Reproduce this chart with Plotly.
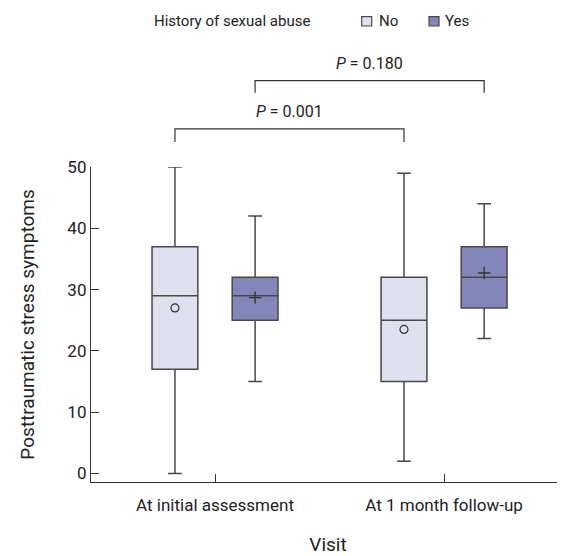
import plotly.graph_objects as go

# ---- data ----
visits = ["At initial assessment", "At 1 month follow-up"]
groups = ["No", "Yes"]
no_lower = [0, 2]
no_q1 = [17, 15]
no_median = [29, 25]
no_q3 = [37, 32]
no_upper = [50, 49]
no_mean = [27, 23.5]

yes_lower = [15, 22]
yes_q1 = [25, 27]
yes_median = [29, 32]
yes_q3 = [32, 37]
yes_upper = [42, 44]
yes_mean = [28.7, 32.7]

p_labels = ["P = 0.001", "P = 0.180"]
legend_title = "History of sexual abuse"

# ---- style ----
FONT = "Roboto, sans-serif"
NO_FILL = "#dfe0ee"
YES_FILL = "#8486b9"
LINE = "#484848"
AX = "#333333"
TXT = "#222222"
OFFSET = 0.175
BOXW = 0.2

idx = list(range(len(visits)))
x_no = [i - OFFSET for i in idx]
x_yes = [i + OFFSET for i in idx]

fig = go.Figure()
fig.add_trace(go.Box(
    name="No", x=x_no, q1=no_q1, median=no_median, q3=no_q3,
    lowerfence=no_lower, upperfence=no_upper, width=BOXW, whiskerwidth=0.3,
    fillcolor=NO_FILL, line=dict(color=LINE, width=1.5), boxpoints=False,
    showlegend=False, hoverinfo="y"))
fig.add_trace(go.Box(
    name="Yes", x=x_yes, q1=yes_q1, median=yes_median, q3=yes_q3,
    lowerfence=yes_lower, upperfence=yes_upper, width=BOXW, whiskerwidth=0.3,
    fillcolor=YES_FILL, line=dict(color=LINE, width=1.5), boxpoints=False,
    showlegend=False, hoverinfo="y"))
fig.add_trace(go.Scatter(
    x=x_no, y=no_mean, mode="markers", showlegend=False,
    marker=dict(symbol="circle-open", size=8, color="#333", line=dict(width=1.2))))
fig.add_trace(go.Scatter(
    x=x_yes, y=yes_mean, mode="markers", showlegend=False,
    marker=dict(symbol="cross-thin", size=9, color="#333", line=dict(width=1.3, color="#333"))))

# significance brackets (data x, paper y)
brackets = [
    (x_no[0], x_no[1], 1.121, 1.079, 1.175, p_labels[0]),
    (x_yes[0], x_yes[1], 1.274, 1.236, 1.327, p_labels[1]),
]
for xa, xb, ytop, ybot, ylab, lab in brackets:
    fig.add_shape(type="path", xref="x", yref="paper",
                  path=f"M {xa},{ybot} L {xa},{ytop} L {xb},{ytop} L {xb},{ybot}",
                  line=dict(color=AX, width=1.2))
    p, rest = lab.split(" ", 1)
    fig.add_annotation(x=(xa + xb) / 2, y=ylab, xref="x", yref="paper",
                       xanchor="center", yanchor="middle",
                       text=f"<i>{p}</i> {rest}", showarrow=False,
                       font=dict(size=16, color=TXT, family=FONT))

# manual legend
fig.add_annotation(x=0.1287, y=1.4635, xref="paper", yref="paper", xanchor="left",
                   yanchor="middle", text=legend_title, showarrow=False,
                   font=dict(size=15, color=TXT, family=FONT))
legend_items = [(groups[0], NO_FILL, 0.5711, 0.6027), (groups[1], YES_FILL, 0.7131, 0.7420)]
for name, col, sx, tx in legend_items:
    fig.add_shape(type="rect", xref="paper", yref="paper",
                  x0=sx, x1=sx + 0.0211, y0=1.4476, y1=1.4776,
                  fillcolor=col, line=dict(color=LINE, width=1.2))
    fig.add_annotation(x=tx, y=1.4635, xref="paper", yref="paper", xanchor="left",
                       yanchor="middle", text=name, showarrow=False,
                       font=dict(size=15, color=TXT, family=FONT))

# page body has an 8px margin, so the figure is 8px smaller and shifted
fig.update_layout(
    width=557, height=548,
    margin=dict(l=83, r=0, t=159, b=74, autoexpand=False),
    paper_bgcolor="white", plot_bgcolor="white",
    boxmode="overlay",
    font=dict(family=FONT, color=TXT),
    showlegend=False,
)
fig.update_xaxes(
    range=[-0.5415, 1.528], tickvals=idx, ticktext=visits,
    showline=True, linecolor=AX, linewidth=1.3, showgrid=False, zeroline=False,
    ticks="inside", ticklen=8, tickcolor=AX, ticklabelstandoff=7,
    tickfont=dict(size=17, family=FONT, color=TXT),
    title=dict(text="Visit", font=dict(size=19, family=FONT, color=TXT), standoff=26),
)
fig.update_yaxes(
    range=[-1.4, 50], tickvals=[0, 10, 20, 30, 40, 50],
    showline=True, linecolor=AX, linewidth=1.3, showgrid=False, zeroline=False,
    ticks="inside", ticklen=8, tickcolor=AX,
    tickfont=dict(size=17, family=FONT, color=TXT),
    title=dict(text="Posttraumatic stress symptoms", font=dict(size=19, family=FONT, color=TXT), standoff=27),
)

fig.write_html("out.html")
